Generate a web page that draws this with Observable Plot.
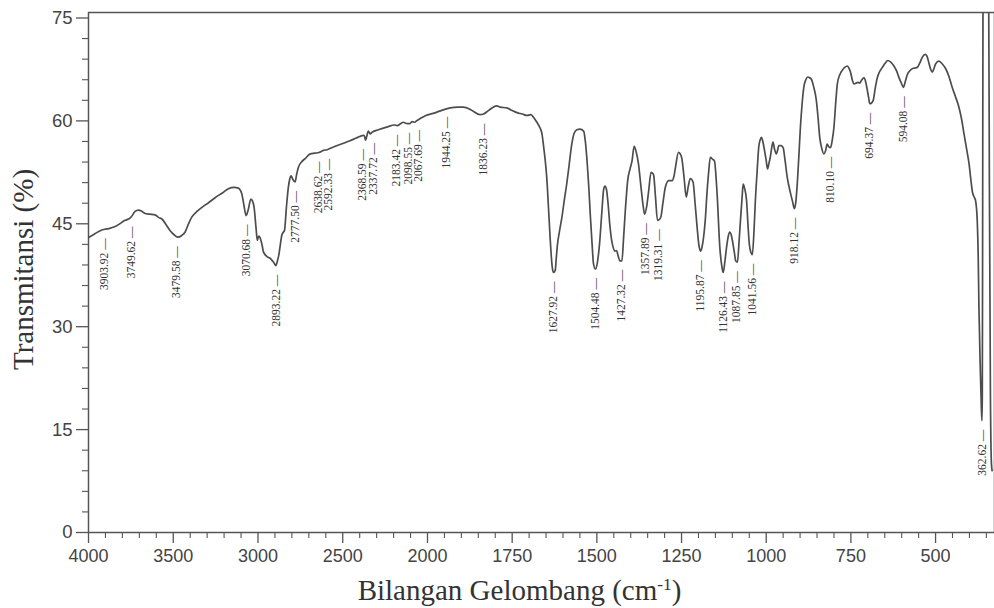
<!DOCTYPE html>
<html>
<head>
<meta charset="utf-8">
<script src="https://cdn.jsdelivr.net/npm/d3@7"></script>
<script src="https://cdn.jsdelivr.net/npm/@observablehq/plot@0.6"></script>
<style>
  html, body { margin: 0; padding: 0; background: #fff; }
  #chart svg { display: block; }
</style>
</head>
<body>
<div id="chart"></div>
<script>
// FTIR spectrum: wavenumber (cm-1) vs transmittance (%)
const wavenumber = [
  4000, 3960, 3921, 3880, 3843, 3784, 3752, 3745, 3725, 3705, 3690, 3666, 3640, 3607, 3585, 3567,
  3540, 3518, 3495, 3473, 3450, 3430, 3410, 3390, 3360, 3331, 3290, 3253, 3210, 3175, 3140, 3116,
  3096, 3085, 3070, 3058, 3042, 3032, 3023, 3012, 3004, 2996, 2988, 2975, 2968, 2950, 2939, 2925,
  2915, 2905, 2895, 2885, 2876, 2868, 2860, 2850, 2844, 2832, 2821, 2812, 2805, 2795, 2781, 2772,
  2762, 2740, 2722, 2692, 2663, 2640, 2614, 2592, 2555, 2500, 2457, 2420, 2378, 2372, 2366, 2360,
  2349, 2337, 2330, 2290, 2241, 2192, 2180, 2143, 2120, 2104, 2090, 2075, 2065, 2045, 2010, 1983,
  1960, 1933, 1910, 1894, 1875, 1865, 1845, 1835, 1820, 1796, 1785, 1766, 1750, 1736, 1720, 1707,
  1695, 1685, 1677, 1668, 1662, 1658, 1653, 1648, 1643, 1638, 1632, 1628, 1623, 1619, 1616, 1610,
  1603, 1596, 1589, 1582, 1574, 1567, 1559, 1550, 1539, 1534, 1529, 1524, 1519, 1514, 1510, 1504,
  1498, 1492, 1485, 1480, 1476, 1472, 1467, 1462, 1457, 1452, 1447, 1442, 1437, 1432, 1426, 1421,
  1416, 1409, 1402, 1396, 1390, 1384, 1377, 1370, 1363, 1359, 1353, 1347, 1340, 1334, 1332, 1327,
  1321, 1316, 1311, 1305, 1298, 1288, 1278, 1272, 1268, 1259, 1254, 1249, 1243, 1236, 1230, 1224,
  1216, 1210, 1204, 1199, 1194, 1190, 1185, 1180, 1175, 1170, 1165, 1158, 1153, 1145, 1137, 1131,
  1127, 1122, 1117, 1112, 1108, 1104, 1100, 1094, 1090, 1085, 1080, 1076, 1071, 1068, 1064, 1058,
  1054, 1050, 1045, 1041, 1036, 1032, 1027, 1022, 1018, 1014, 1010, 1005, 1000, 996, 992, 988,
  984, 980, 975, 970, 966, 963, 956, 950, 945, 938, 928, 922, 917, 913, 909, 904,
  899, 894, 889, 883, 877, 872, 867, 860, 852, 847, 842, 836, 830, 825, 820, 815,
  810, 805, 800, 795, 790, 783, 775, 768, 760, 755, 751, 746, 741, 735, 729, 724,
  719, 711, 707, 703, 698, 694, 689, 684, 678, 672, 665, 657, 649, 641, 633, 623,
  615, 608, 601, 595, 589, 583, 576, 569, 562, 554, 546, 539, 530, 525, 520, 515,
  510, 505, 500, 490, 480, 470, 460, 451, 441, 431, 423, 416, 408, 401, 396, 391,
  386, 382, 379, 377, 374, 372, 368, 365, 363, 362, 361, 360, 358, 345, 343, 341,
  338, 335, 333
];
const transmittance = [
  43.0, 43.6, 44.1, 44.3, 44.6, 45.5, 45.9, 46.1, 46.8, 47.0, 46.9, 46.5, 46.4, 46.3, 45.9, 45.7,
  44.8, 44.0, 43.4, 43.05, 43.3, 43.8, 45.0, 46.0, 46.8, 47.4, 48.1, 48.8, 49.5, 50.1, 50.3, 50.2,
  49.4, 48.0, 46.2, 47.0, 48.6, 48.3, 47.4, 44.5, 42.6, 43.2, 43.0, 41.8, 40.9, 40.3, 40.1, 39.9,
  39.6, 39.3, 38.9, 39.6, 40.6, 42.0, 43.3, 43.8, 44.0, 47.5, 50.3, 51.6, 52.0, 51.5, 51.1, 52.2,
  53.2, 54.1, 54.5, 55.2, 55.3, 55.4, 55.7, 55.8, 56.2, 56.7, 57.1, 57.5, 57.9, 57.8, 57.2, 57.6,
  58.5, 58.1, 58.3, 58.7, 59.1, 59.4, 59.3, 59.8, 59.6, 59.6, 59.9, 59.8, 60.0, 60.3, 60.8, 61.1,
  61.5, 61.9, 62.0, 62.0, 61.7, 61.4, 60.9, 61.0, 61.5, 62.2, 62.0, 61.9, 61.5, 61.2, 61.0, 60.8,
  60.9, 60.4, 59.8, 59.0, 58.1, 56.6, 54.5, 51.8, 47.5, 43.0, 38.8, 37.9, 38.2, 40.5, 42.1, 44.0,
  46.0, 48.5, 50.8, 53.5, 56.6, 58.2, 58.7, 58.8, 58.5, 57.0, 54.2, 50.5, 46.0, 42.0, 39.2, 38.4,
  39.5, 42.1, 46.9, 50.0, 50.5, 50.1, 48.0, 45.0, 42.8, 41.6, 41.0, 41.1, 40.3, 39.6, 39.6, 43.0,
  46.9, 51.3, 53.0, 54.2, 56.3, 55.5, 53.7, 50.5, 47.5, 46.4, 47.5, 49.8, 52.5, 52.3, 52.0, 49.0,
  45.5, 45.6, 46.0, 48.0, 50.3, 51.3, 51.3, 52.0, 53.2, 55.4, 55.2, 54.5, 52.0, 48.9, 50.5, 51.6,
  51.1, 48.0, 44.5, 42.0, 41.0, 41.5, 43.0, 45.5, 49.4, 52.5, 54.7, 54.4, 54.2, 49.4, 41.6, 38.8,
  37.9, 39.5, 41.6, 43.2, 43.8, 43.5, 42.6, 40.8, 39.6, 39.4, 42.5, 45.5, 49.0, 50.8, 50.2, 48.4,
  45.0, 42.1, 40.8, 40.5, 44.0, 48.4, 52.5, 56.2, 57.2, 57.6, 57.0, 55.7, 54.2, 53.0, 53.8, 54.7,
  56.0, 56.9, 55.8, 55.2, 55.8, 56.4, 56.4, 56.1, 54.5, 51.8, 49.4, 48.2, 47.2, 48.0, 50.3, 54.5,
  59.1, 62.5, 64.9, 66.0, 66.4, 66.3, 66.1, 65.0, 63.0, 60.5, 57.6, 56.0, 55.2, 55.6, 56.6, 56.2,
  56.1, 57.2, 59.1, 62.5, 65.4, 66.7, 67.4, 67.8, 68.0, 67.6, 67.1, 66.0, 65.4, 65.5, 65.6, 65.5,
  65.9, 66.3, 65.8, 64.9, 63.5, 62.5, 62.6, 63.0, 64.8, 66.3, 67.2, 67.8, 68.4, 68.8, 68.6, 68.0,
  67.3, 66.3, 65.5, 64.9, 65.8, 66.8, 67.3, 67.6, 67.7, 67.8, 68.5, 69.3, 69.7, 69.4, 68.5, 67.6,
  67.1, 67.6, 68.3, 68.7, 68.3, 67.6, 66.4, 64.9, 63.5, 62.0, 60.2, 58.1, 55.8, 53.7, 51.5, 49.6,
  48.9, 48.4, 47.2, 45.5, 40.0, 33.0, 24.0, 18.5, 16.3, 20.0, 45.0, 76.0, 82.0, 82.0, 76.0, 50.0,
  20.0, 10.0, 9.0
];

// Labelled absorption bands and the transmittance at each band
const peakWavenumber = [
  3903.92, 3749.62, 3479.58, 3070.68, 2893.22, 2777.50, 2638.62, 2592.33, 2368.59, 2337.72,
  2183.42, 2098.55, 2067.69, 1944.25, 1836.23, 1627.92, 1504.48, 1427.32, 1357.89, 1319.31,
  1195.87, 1126.43, 1087.85, 1041.56, 918.12, 810.10, 694.37, 594.08, 362.62
];
const peakTransmittance = [
  44.2, 45.9, 43.05, 46.2, 38.9, 51.1, 55.4, 55.8, 57.2, 58.1,
  59.3, 59.6, 60.0, 61.9, 60.9, 37.9, 38.4, 39.6, 46.4, 45.5,
  41.0, 37.9, 39.4, 40.5, 47.2, 56.1, 62.5, 64.9, 16.3
];

// Axis ticks
const xMajorTicks = [4000, 3500, 3000, 2500, 2000, 1750, 1500, 1250, 1000, 750, 500];
const yMajorTicks = [0, 15, 30, 45, 60, 75];

// Wavenumber axis is split: 4000-2000 compressed, 2000 and below expanded
const xDomain = [4000, 2000, 326];
const xRange = [88, 427, 994];
const yDomain = [0, 75.8];

const xMinorTicks = [
  ...d3.range(4000, 2000, -100).filter(v => v % 500 !== 0),
  ...d3.range(2000, 326, -50).filter(v => v % 250 !== 0)
];
const yMinorTicks = d3.range(0, 76, 3).filter(v => v % 15 !== 0);

const spectrum = wavenumber.map((w, i) => ({w, t: transmittance[i]}));

// Spread crowded band labels so that they do not overlap horizontally
const xs = d3.scaleLinear().domain(xDomain).range(xRange);
const labelGap = 10.6;
const px = peakWavenumber.map(w => xs(w));
for (let iter = 0; iter < 200; iter++) {
  for (let i = 1; i < px.length; i++) {
    const d = px[i] - px[i - 1];
    if (d < labelGap) {
      const push = (labelGap - d) / 2;
      px[i - 1] -= push;
      px[i] += push;
    }
  }
}
const peaks = peakWavenumber.map((w, i) => ({
  w,
  t: peakTransmittance[i],
  labelW: xs.invert(px[i]),
  label: w.toFixed(2) + " \u2014"
}));

const axisColor = "#555";
const sans = "'Liberation Sans', Arial, Helvetica, sans-serif";
const serif = "'Liberation Serif', 'Times New Roman', Times, serif";

const chart = Plot.plot({
  width: 994,
  height: 608,
  marginLeft: 88,
  marginRight: 0,
  marginTop: 12,
  marginBottom: 76,
  style: {background: "#fff", color: "#444", fontFamily: sans},
  x: {type: "linear", domain: xDomain, range: xRange},
  y: {type: "linear", domain: yDomain},
  marks: [
    Plot.frame({stroke: axisColor, strokeWidth: 1.5}),
    Plot.axisX(xMajorTicks, {
      tickSize: 11, tickPadding: 6, fontSize: 18, stroke: axisColor, strokeWidth: 1.3,
      fill: "#444", tickFormat: d => String(d), label: null
    }),
    Plot.axisX(xMinorTicks, {
      tickSize: 6, stroke: axisColor, strokeWidth: 1.1, tickFormat: () => "", label: null
    }),
    Plot.axisY(yMajorTicks, {
      tickSize: 12, tickPadding: 4, fontSize: 18.5, stroke: axisColor, strokeWidth: 1.3,
      fill: "#444", tickFormat: d => String(d), label: null
    }),
    Plot.axisY(yMinorTicks, {
      tickSize: 6, stroke: axisColor, strokeWidth: 1.1, tickFormat: () => "", label: null
    }),
    Plot.line(spectrum, {
      x: "w", y: "t", stroke: "#4d4d4d", strokeWidth: 1.7, curve: "monotone-x", clip: true
    }),
    Plot.text(peaks, {
      x: "labelW", y: "t", text: "label", rotate: -90, textAnchor: "end",
      lineAnchor: "middle", dy: 9, fontSize: 11.5, fontFamily: serif, fill: "#333"
    }),
    Plot.text(["Transmitansi (%)"], {
      frameAnchor: "left", rotate: -90, dx: -65, dy: -3, fontSize: 29,
      fontFamily: serif, fill: "#333", textAnchor: "middle", lineAnchor: "middle",
      className: "ytitle"
    }),
    Plot.text(["Bilangan Gelombang (cm-1)"], {
      frameAnchor: "bottom", dx: -22, dy: 58, fontSize: 29,
      fontFamily: serif, fill: "#333", textAnchor: "middle", lineAnchor: "middle",
      className: "xtitle"
    })
  ]
});

document.getElementById("chart").appendChild(chart);

// Superscript the exponent of the wavenumber unit
d3.select(chart).selectAll(".xtitle text").each(function () {
  const t = d3.select(this);
  t.text(null);
  t.append("tspan").text("Bilangan Gelombang (cm");
  t.append("tspan").attr("dy", "-0.55em").attr("font-size", "0.6em").text("-1");
  t.append("tspan").attr("dy", "0.33em").text(")");
});
</script>
</body>
</html>
